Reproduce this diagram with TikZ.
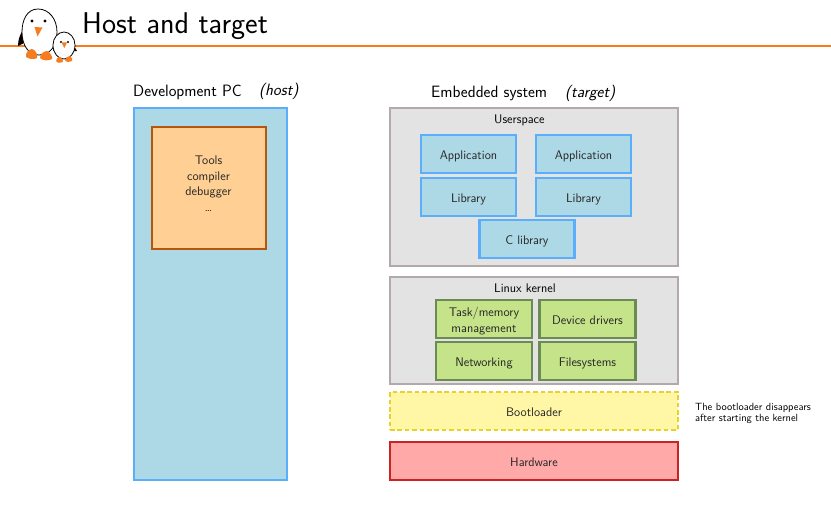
\documentclass[tikz,border=0pt]{standalone}
\usepackage{tikz}
\usetikzlibrary{positioning}

\definecolor{hostblue}{HTML}{ADD8E6}
\definecolor{hostline}{HTML}{5AAEFA}
\definecolor{toolfill}{HTML}{FFCF93}
\definecolor{toolline}{HTML}{B5560F}
\definecolor{areafill}{HTML}{E4E3E3}
\definecolor{arealine}{HTML}{B3A9A9}
\definecolor{kernfill}{HTML}{C5E388}
\definecolor{kernline}{HTML}{6B8A55}
\definecolor{bootfill}{HTML}{FFF6A6}
\definecolor{bootline}{HTML}{E8D030}
\definecolor{hardfill}{HTML}{FFA9A9}
\definecolor{hardline}{HTML}{CC2222}
\definecolor{rulecolor}{HTML}{F57C1F}

\tikzset{
  basebox/.style={draw,line width=2.2pt,outer sep=0pt,inner sep=0pt,align=center,text=black!85,text height=11.6pt,text depth=0pt},
  areabox/.style={basebox,fill=areafill,draw=arealine,minimum width=288pt},
  appbox/.style={basebox,fill=hostblue,draw=hostline,minimum width=95pt,minimum height=38pt},
  kernbox/.style={basebox,fill=kernfill,draw=kernline,minimum width=96pt,minimum height=38pt},
  flatbox/.style={basebox,minimum width=288pt,minimum height=38pt},
  head/.style={font=\sffamily\fontsize{16.4}{19}\selectfont,anchor=west,inner sep=0pt},
  headtag/.style={head,font=\sffamily\itshape\fontsize{16.4}{19}\selectfont},
  birdfoot/.style={fill=rulecolor},
}

\begin{document}
\begin{tikzpicture}[x=1pt,y=-1pt,font=\sffamily\fontsize{12.5}{15.6}\selectfont]
  \useasboundingbox (0,0) rectangle (831,510);

  % title bar
  \coordinate (rulea) at (0,46);
  \coordinate (ruleb) at (831,46);
  \draw[rulecolor,line width=2pt] (rulea)--(ruleb);
  \node[font=\sffamily\fontsize{30}{33}\selectfont,anchor=west,inner sep=0pt] (title) at (82,26) {Host and target};

  % big penguin
  \fill (24,28) .. controls (20,34) and (18,40) .. (18,46) .. controls (21,45) and (24,43) .. (26,41) -- cycle;
  \draw[line width=0.8pt,fill=white] (38,9) .. controls (27,9) and (22,20) .. (22,32) .. controls (22,46) and (29,55) .. (39,55) .. controls (50,55) and (57,46) .. (57,32) .. controls (57,19) and (49,9) .. (38,9) -- cycle;
  \fill (32,21) circle[radius=1.7];
  \fill (45,21) circle[radius=1.7];
  \fill[birdfoot] (34.5,27) -- (42.5,27.5) -- (37.5,36.5) -- cycle;
  \fill[birdfoot] (26,57) .. controls (25,53) and (29,49) .. (32,49) .. controls (36,50) and (38,55) .. (37,58) .. controls (34,60) and (29,59) .. (26,57) -- cycle;
  \fill[birdfoot] (40,58) .. controls (40,54) and (44,51) .. (47,51) .. controls (50,52) and (53,57) .. (52,59) .. controls (49,61) and (43,61) .. (40,58) -- cycle;

  % small penguin
  \fill (71,42) .. controls (73,45) and (76,49) .. (77,51) .. controls (75,52) and (73,51) .. (71,50) -- cycle;
  \fill (56,42) .. controls (54,45) and (53,48) .. (53,51) -- (57,49) -- cycle;
  \draw[line width=0.8pt,fill=white] (64,32) .. controls (58,32) and (53,38) .. (53,45) .. controls (53,53) and (58,59) .. (64,59) .. controls (70,59) and (75,53) .. (75,45) .. controls (75,38) and (70,32) .. (64,32) -- cycle;
  \fill (61,42) circle[radius=1.1];
  \fill (68,42) circle[radius=1.1];
  \fill[birdfoot] (61.5,42.5) -- (67,42.5) -- (64.3,48) -- cycle;
  \fill[birdfoot] (56,61) .. controls (56,59) and (58,57) .. (60,57) .. controls (62,57) and (63.5,60) .. (63,62) .. controls (61,63.5) and (57,63) .. (56,61) -- cycle;
  \fill[birdfoot] (65,60) .. controls (65,58) and (68,56) .. (70,56) .. controls (72,57) and (73,60) .. (72,61) .. controls (70,62.5) and (66,62.5) .. (65,60) -- cycle;

  % host side
  \node[head] (hostlabel) at (133,92) {Development PC};
  \node[headtag] (hosttag) at (259,91.5) {(host)};
  \node[basebox,fill=hostblue,draw=hostline,minimum width=153pt,minimum height=372pt] (host) at (210.5,294) {};
  \node[basebox,fill=toolfill,draw=toolline,minimum width=114pt,minimum height=122pt] (tools) at (209,188) {};
  \node[align=center,inner sep=0pt,text=black!85] (toolstext) at (208.5,183.5)
    {Tools\\compiler\\debugger\\\dots};

  % target side
  \node[head] (targetlabel) at (431,93) {Embedded system};
  \node[headtag] (targettag) at (565,93) {(target)};
  \node[areabox,minimum height=158pt] (userspace) at (534,187) {};
  \node[anchor=west,inner sep=0pt] (userlabel) at (494,120.5) {Userspace};
  \node[appbox] (appa) at (468.5,154) {Application};
  \node[appbox,below=5pt of appa] (liba) {Library};
  \node[appbox,right=20pt of appa] (appb) {Application};
  \node[appbox,below=5pt of appb] (libb) {Library};
  \node[appbox] (libc) at (527,239) {C library};

  \node[areabox,minimum height=107pt] (kernel) at (534,330.5) {};
  \node[anchor=west,inner sep=0pt] (kernlabel) at (494,288.5) {Linux kernel};
  \node[kernbox] (task) at (484,319) {};
  \node[align=center,inner sep=0pt,text=black!85] (tasktext) at (484,321) {Task/memory\\management};
  \node[kernbox,right=7.5pt of task] (drivers) {Device drivers};
  \node[kernbox,below=4pt of task] (net) {Networking};
  \node[kernbox,below=4pt of drivers] (fs) {Filesystems};

  \node[flatbox,fill=bootfill,draw=bootline,dash pattern=on 4.6pt off 2.8pt] (boot) at (534,411) {\textcolor{black!85}{Bootloader}};
  \node[flatbox,fill=hardfill,draw=hardline] (hard) at (534,461) {Hardware};
  \node[anchor=west,inner sep=0pt,align=left,font=\sffamily\fontsize{10.45}{11}\selectfont] (bootnote) at (695,413.5)
    {The bootloader disappears\\after starting the kernel};
\end{tikzpicture}
\end{document}
